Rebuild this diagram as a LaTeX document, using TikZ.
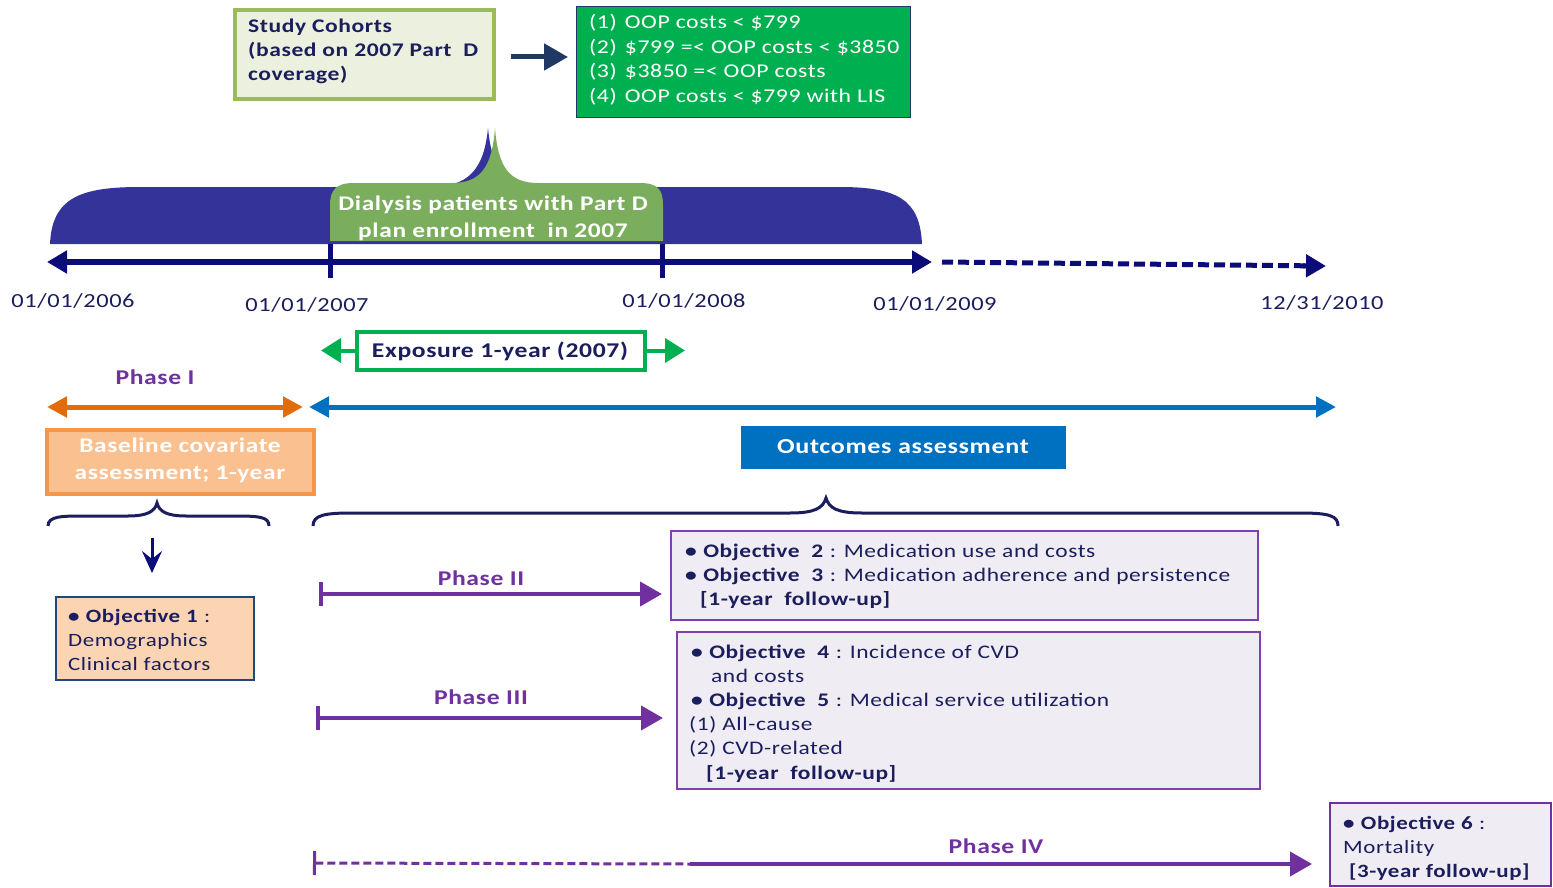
\documentclass[tikz,border=0pt]{standalone}
\usepackage{fontspec}
\setmainfont{Carlito}[FakeStretch=1.22, LetterSpace=3]
\usetikzlibrary{arrows.meta}
\definecolor{cText}{HTML}{1B1D5C}
\definecolor{cLine}{HTML}{0C0C78}
\definecolor{cBrace}{HTML}{333399}
\definecolor{cGShape}{HTML}{7AAE5C}
\definecolor{cGreen}{HTML}{00B050}
\definecolor{cOlive}{HTML}{9BBB59}
\definecolor{cOliveF}{HTML}{EBF1DE}
\definecolor{cPurple}{HTML}{7030A0}
\definecolor{cOrange}{HTML}{E36C0A}
\definecolor{cBlue}{HTML}{0070C0}
\definecolor{cPeach}{HTML}{FAC090}
\definecolor{cPeachB}{HTML}{F79646}
\definecolor{cSkin}{HTML}{FBD4B4}
\definecolor{cObjB}{HTML}{1F497D}
\definecolor{cLav}{HTML}{EFEDF3}
\definecolor{cLavB}{HTML}{8040B0}
\definecolor{cArrow}{HTML}{1F3864}
\newcommand{\fsz}[1]{\fontsize{#1}{#1}\selectfont}
\newcommand{\bul}{\textbf{\textbullet}}
\tikzset{
  x=1pt, y=-1pt,
  boxnode/.style={inner sep=0pt, outer sep=0pt},
  ln/.style={anchor=base west, inner sep=0pt, text=cText, font=\fsz{19.2}},
  lnb/.style={anchor=base, inner sep=0pt, text=cText, font=\bfseries\fsz{21}},
  datelab/.style={anchor=base, inner sep=0pt, text=cText, font=\fsz{20}},
  phaselab/.style={anchor=base, inner sep=0pt, text=cPurple, font=\bfseries\fsz{21}},
  wlab/.style={anchor=base, inner sep=0pt, text=white, font=\bfseries\fsz{21}},
}
\begin{document}
\begin{tikzpicture}
\useasboundingbox (0,0) rectangle (1553,888);

% ---- Study cohorts
\node[boxnode, draw=cOlive, fill=cOliveF, line width=4pt, minimum width=259pt, minimum height=89pt] (cohort) at (364.5,54.5) {};
\node[ln, font=\bfseries\fsz{19.3}] (c1) at (248,33) {Study Cohorts};
\node[ln, font=\bfseries\fsz{19.3}] (c2) at (248,57) {(based on 2007 Part\ \ D};
\node[ln, font=\bfseries\fsz{19.3}] (c3) at (248,81) {coverage)};

\node[boxnode, draw=cArrow, fill=cGreen, line width=1.5pt, minimum width=334pt, minimum height=111pt] (oop) at (743.5,62) {};
\tikzset{oopl/.style={ln, text=white, font=\fsz{19.5}}}
\node[oopl] (o1) at (589,29) {(1)\hspace{8pt}OOP costs < \$799};
\node[oopl] (o2) at (589,54) {(2)\hspace{8pt}\$799 =< OOP costs < \$3850};
\node[oopl] (o3) at (589,78) {(3)\hspace{8pt}\$3850 =< OOP costs};
\node[oopl] (o4) at (589,103) {(4)\hspace{8pt}OOP costs < \$799 with LIS};

\coordinate (ca) at (511,57);
\coordinate (cb) at (568,57);
\draw[cArrow, line width=5pt, -{Triangle[length=24pt,width=26pt]}] (ca) -- (cb);

% ---- enrollment braces
\fill[cBrace] (50,244) .. controls (52,198) and (80,187) .. (140,187) -- (430,187)
  .. controls (468,187) and (484,170) .. (488,128)
  .. controls (492,170) and (505,187) .. (545,187) -- (840,187)
  .. controls (898,187) and (920,200) .. (922,244) -- cycle;
\fill[cGShape] (330,241) -- (330,205) .. controls (330,190) and (336,183) .. (354,183) -- (452,183)
  .. controls (480,183) and (492,168) .. (495,128)
  .. controls (498,168) and (510,183) .. (538,183) -- (640,183)
  .. controls (658,183) and (663,190) .. (663,205) -- (663,241) -- cycle;
\node[wlab, font=\bfseries\fsz{20.8}] (dial1) at (493,210) {Dialysis patients with Part D};
\node[wlab, font=\bfseries\fsz{20.8}] (dial2) at (493,237) {plan enrollment\ \ in 2007};

% ---- timeline
\coordinate (t0) at (47,262);
\coordinate (t1) at (932,262);
\coordinate (t2) at (942,262);
\coordinate (t3) at (1326,266);
\draw[cLine, line width=6pt, {Triangle[length=20pt,width=22pt]}-{Triangle[length=20pt,width=22pt]}] (t0) -- (t1);
\draw[cLine, line width=5pt, dash pattern=on 11pt off 5pt] (t2) -- (1305,265.8);
\draw[cLine, line width=5pt, -{Triangle[length=20pt,width=22pt]}] (1303,265.8) -- (t3);
\draw[cLine, line width=5pt] (330,244) -- (330,278);
\draw[cLine, line width=5pt] (662,244) -- (662,278);

\node[datelab] (d06) at (73,307) {01/01/2006};
\node[datelab] (d07) at (307,311) {01/01/2007};
\node[datelab] (d08) at (684,307) {01/01/2008};
\node[datelab] (d09) at (935,310) {01/01/2009};
\node[datelab] (d10) at (1322,309) {12/31/2010};

% ---- exposure
\node[boxnode, draw=cGreen, fill=white, line width=4pt, minimum width=288pt, minimum height=38pt] (expo) at (501,350.5) {};
\node[lnb] (expot) at (500,357) {Exposure 1-year (2007)};
\draw[cGreen, line width=4pt, -{Triangle[length=20pt,width=24pt]}] (expo.west) -- ++(-36,0) coordinate (el);
\draw[cGreen, line width=4pt, -{Triangle[length=20pt,width=24pt]}] (expo.east) -- ++(40,0) coordinate (er);

% ---- phase I / outcomes arrows
\node[phaselab] (p1) at (155,384) {Phase I};
\coordinate (oa) at (47,407);
\coordinate (ob) at (303,407);
\draw[cOrange, line width=5pt, {Triangle[length=20pt,width=20pt]}-{Triangle[length=20pt,width=20pt]}] (oa) -- (ob);
\coordinate (ba) at (309,407);
\coordinate (bb) at (1336,407);
\draw[cBlue, line width=5pt, {Triangle[length=20pt,width=20pt]}-{Triangle[length=20pt,width=20pt]}] (ba) -- (bb);

\node[boxnode, draw=cPeachB, fill=cPeach, line width=4pt, minimum width=267pt, minimum height=64pt] (base) at (180.5,462) {};
\node[wlab, font=\bfseries\fsz{20.8}] (b1) at (180,452) {Baseline covariate};
\node[wlab, font=\bfseries\fsz{20.8}] (b2) at (180,479) {assessment; 1-year};

\node[boxnode, fill=cBlue, minimum width=325pt, minimum height=43pt] (outc) at (903.5,447.5) {};
\node[wlab, font=\bfseries\fsz{21.4}] (outct) at (903,453) {Outcomes assessment};

% ---- braces under
\draw[cText, line width=3pt] (48,526) .. controls (48,516) and (62,516) .. (85,516) -- (128,516)
  .. controls (148,516) and (155,511) .. (157,503)
  .. controls (159,511) and (166,516) .. (186,516) -- (235,516)
  .. controls (260,516) and (269,517) .. (269,526);
\draw[cText, line width=3pt] (313,526) .. controls (313,515) and (325,513) .. (352,513) -- (790,513)
  .. controls (815,513) and (823,508) .. (826,498)
  .. controls (829,508) and (837,513) .. (862,513) -- (1300,513)
  .. controls (1330,513) and (1338,516) .. (1338,526);

\coordinate (da) at (152,538);
\coordinate (db) at (152,573);
\draw[cLine, line width=3pt, -{Stealth[length=22pt,width=20pt,inset=8pt]}] (da) -- (db);

% ---- objective 1
\node[boxnode, draw=cObjB, fill=cSkin, line width=2pt, minimum width=198pt, minimum height=83pt] (obj1) at (155,638.5) {};
\node[ln, font=\fsz{18.8}] (ob1a) at (68,622) {\bul\ \textbf{Objective 1} :};
\node[ln, font=\fsz{18.8}] (ob1b) at (68,646) {Demographics};
\node[ln, font=\fsz{18.8}] (ob1c) at (68,670) {Clinical factors};

% ---- phase II
\node[phaselab] (p2) at (481,585) {Phase II};
\coordinate (p2a) at (319,594);
\coordinate (p2b) at (662,594);
\draw[cPurple, line width=4pt, {Bar[width=24pt]}-{Triangle[length=22pt,width=24pt]}] (p2a) -- (p2b);

\node[boxnode, draw=cLavB, fill=cLav, line width=2pt, minimum width=587pt, minimum height=89pt] (obj23) at (964.5,575.5) {};
\node[ln] (ob2) at (685,557) {\bul\ \textbf{Objective\ \ 2} : Medication use and costs};
\node[ln] (ob3) at (685,581) {\bul\ \textbf{Objective\ \ 3} : Medication adherence and persistence};
\node[ln] (ob23f) at (700,605) {\textbf{[1-year\ \ follow-up]}};

% ---- phase III
\node[phaselab] (p3) at (481,704) {Phase III};
\coordinate (p3a) at (316,718);
\coordinate (p3b) at (663,718);
\draw[cPurple, line width=4pt, {Bar[width=24pt]}-{Triangle[length=22pt,width=24pt]}] (p3a) -- (p3b);

\node[boxnode, draw=cLavB, fill=cLav, line width=2pt, minimum width=583pt, minimum height=157pt] (obj45) at (968.5,710.5) {};
\node[ln] (ob4) at (691,658) {\bul\ \textbf{Objective\ \ 4} : Incidence of CVD};
\node[ln] (ob4b) at (711,682) {and costs};
\node[ln] (ob5) at (691,706) {\bul\ \textbf{Objective\ \ 5} : Medical service utilization};
\node[ln] (ob5a) at (689,730) {(1) All-cause};
\node[ln] (ob5b) at (689,754) {(2) CVD-related};
\node[ln] (ob45f) at (706,779) {\textbf{[1-year\ \ follow-up]}};

% ---- phase IV
\node[phaselab] (p4) at (996,853) {Phase IV};
\coordinate (p4a) at (313,863);
\coordinate (p4m) at (690,864);
\coordinate (p4b) at (1312,864);
\draw[cPurple, line width=3pt, dash pattern=on 8pt off 4pt, {Bar[width=24pt]}-] (p4a) -- (p4m);
\draw[cPurple, line width=4pt, -{Triangle[length=22pt,width=24pt]}] (p4m) -- (p4b);

\node[boxnode, draw=cPurple, fill=cLav, line width=2pt, minimum width=221pt, minimum height=83pt] (obj6) at (1440.5,844.5) {};
\node[ln, font=\fsz{18.8}] (ob6a) at (1343,829) {\bul\ \textbf{Objective 6} :};
\node[ln, font=\fsz{18.8}] (ob6b) at (1343,853) {Mortality};
\node[ln, font=\fsz{18.8}] (ob6c) at (1349,877) {\textbf{[3-year follow-up]}};
\end{tikzpicture}
\end{document}
